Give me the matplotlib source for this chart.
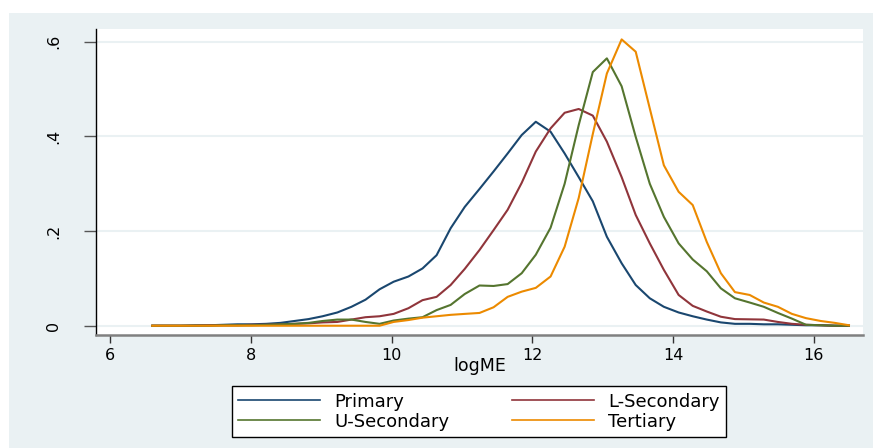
import matplotlib
matplotlib.use("Agg")
from matplotlib import pyplot as plt
from matplotlib.patches import Rectangle

# kdensity evaluation grid (logME)
logME = [6.60, 6.80, 7.00, 7.21, 7.41, 7.61, 7.81, 8.01, 8.22, 8.42,
         8.62, 8.82, 9.02, 9.23, 9.43, 9.63, 9.83, 10.03, 10.24, 10.44,
         10.64, 10.84, 11.04, 11.25, 11.45, 11.65, 11.85, 12.05, 12.26, 12.46,
         12.66, 12.86, 13.06, 13.27, 13.47, 13.67, 13.87, 14.08, 14.28, 14.48,
         14.68, 14.88, 15.09, 15.29, 15.49, 15.69, 15.89, 16.10, 16.30, 16.50]

primary = [0.000, 0.000, 0.000, 0.001, 0.001, 0.002, 0.003, 0.003, 0.004, 0.006,
           0.010, 0.014, 0.020, 0.028, 0.040, 0.055, 0.077, 0.093, 0.104, 0.121,
           0.149, 0.206, 0.251, 0.289, 0.326, 0.364, 0.403, 0.431, 0.410, 0.364,
           0.314, 0.263, 0.188, 0.132, 0.086, 0.058, 0.040, 0.028, 0.020, 0.013,
           0.007, 0.004, 0.004, 0.003, 0.003, 0.002, 0.001, 0.001, 0.000, 0.000]

l_secondary = [0.000, 0.000, 0.000, 0.000, 0.001, 0.001, 0.001, 0.002, 0.002, 0.003,
               0.004, 0.005, 0.007, 0.008, 0.013, 0.018, 0.020, 0.025, 0.037, 0.054,
               0.061, 0.086, 0.120, 0.160, 0.202, 0.245, 0.302, 0.368, 0.417, 0.450,
               0.458, 0.444, 0.389, 0.314, 0.234, 0.174, 0.118, 0.065, 0.042, 0.030,
               0.019, 0.014, 0.0135, 0.013, 0.008, 0.004, 0.002, 0.001, 0.000, 0.000]

u_secondary = [0.000, 0.000, 0.000, 0.000, 0.000, 0.001, 0.001, 0.001, 0.002, 0.003,
               0.004, 0.006, 0.010, 0.013, 0.013, 0.008, 0.004, 0.011, 0.015, 0.018,
               0.033, 0.044, 0.067, 0.085, 0.084, 0.088, 0.111, 0.150, 0.207, 0.300,
               0.424, 0.536, 0.565, 0.506, 0.399, 0.300, 0.230, 0.174, 0.140, 0.115,
               0.079, 0.058, 0.049, 0.040, 0.027, 0.015, 0.002, 0.001, 0.000, 0.000]

tertiary = [0.000, 0.000, 0.000, 0.000, 0.000, 0.000, 0.000, 0.000, 0.000, 0.000,
            0.000, 0.000, 0.000, 0.000, 0.000, 0.000, 0.000, 0.008, 0.012, 0.017,
            0.020, 0.023, 0.025, 0.027, 0.039, 0.061, 0.072, 0.080, 0.104, 0.167,
            0.270, 0.405, 0.533, 0.605, 0.579, 0.459, 0.339, 0.283, 0.255, 0.177,
            0.111, 0.071, 0.065, 0.049, 0.040, 0.025, 0.016, 0.010, 0.006, 0.001]

series = [("Primary", primary, "#1a476f"),
          ("L-Secondary", l_secondary, "#90353b"),
          ("U-Secondary", u_secondary, "#55752f"),
          ("Tertiary", tertiary, "#ec8a00")]

xticks = [6, 8, 10, 12, 14, 16]
yticks = [0, 0.2, 0.4, 0.6]
ytick_labels = ["0", ".2", ".4", ".6"]

bg = "#eaf1f3"
plt.rcParams['font.family'] = ['DejaVu Sans']

fig = plt.figure(figsize=(8.73, 4.48), dpi=100, facecolor="white")
fig.patches.append(Rectangle((9 / 873, 0), 1, 1 - 13 / 448, transform=fig.transFigure,
                             facecolor=bg, edgecolor="none", zorder=-10))

ax = fig.add_axes([96 / 873, 1 - 335 / 448, (863 - 96) / 873, (335 - 29) / 448])
ax.set_facecolor("white")

lines = {}
for name, vals, col in series:
    lines[name], = ax.plot(logME, vals, color=col, lw=1.5, label=name, zorder=3)

ax.set_xlim(5.80, 16.70)
ax.set_ylim(-0.0196, 0.627)
ax.set_xticks(xticks)
ax.set_yticks(yticks)
ax.set_yticklabels(ytick_labels)
ax.grid(axis="y", color=bg, lw=1.5, zorder=0)

for s in ["top", "right"]:
    ax.spines[s].set_visible(False)
ax.spines["left"].set_color("black")
ax.spines["left"].set_linewidth(1.0)
ax.spines["bottom"].set_color("#808080")
ax.spines["bottom"].set_linewidth(1.8)

ax.tick_params(axis="x", length=6, width=1, color="#333333", labelsize=11.5, pad=3)
ax.tick_params(axis="y", length=9, width=1, color="#555555", labelsize=11.5,
               labelrotation=90, pad=16)
for lab in ax.get_yticklabels():
    lab.set_va("center")

ax.set_xlabel("logME", fontsize=12.5, labelpad=-4)

# legend fills by column, so order handles to get rows Primary/L-Sec, U-Sec/Tertiary
order = ["Primary", "U-Secondary", "L-Secondary", "Tertiary"]
leg = fig.legend([lines[n] for n in order], order,
                 loc="center", bbox_to_anchor=(479 / 873, 1 - 411.7 / 448), ncol=2,
                 fontsize=13, frameon=True, fancybox=False, framealpha=1,
                 edgecolor="black", handlelength=4.5, handletextpad=0.8,
                 columnspacing=3.5, borderpad=0.35, labelspacing=0.1,
                 borderaxespad=0)
leg.get_frame().set_linewidth(1.0)
for line in leg.get_lines():
    line.set_linewidth(1.2)

fig.savefig("out.png", dpi=100, facecolor="white")
